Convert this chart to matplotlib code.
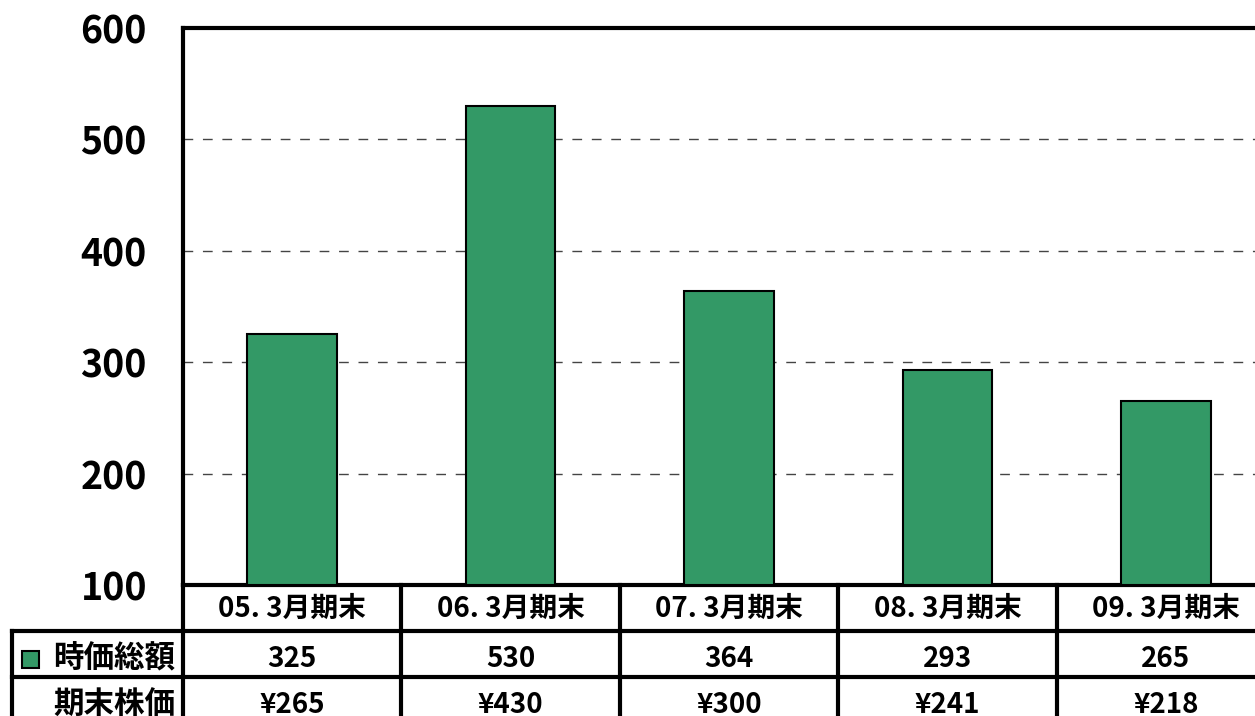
import matplotlib
matplotlib.use("Agg")
import matplotlib.pyplot as plt
from matplotlib.patches import Rectangle

plt.rcParams['font.family'] = ['Noto Sans CJK JP', 'DejaVu Sans']

#----------- データ -----------#
periods = ["05. 3月期末", "06. 3月期末", "07. 3月期末", "08. 3月期末", "09. 3月期末"]
market_cap = [325, 530, 364, 293, 265]          # 時価総額
share_price = ["¥265", "¥430", "¥300", "¥241", "¥218"]  # 期末株価
row_labels = ["時価総額", "期末株価"]

BAR_COLOR = "#339966"
W, H = 1255, 716

#----------- 図 -----------#
fig = plt.figure(figsize=(W / 100, H / 100), dpi=100)

# main plot area (right edge runs off the picture like the original)
col_w = 218.4
ax_l, ax_top, ax_bot = 183, 28, 585
ax = fig.add_axes([ax_l / W, (H - ax_bot) / H, 5 * col_w / W, (ax_bot - ax_top) / H])
x = list(range(len(periods)))
ax.bar(x, [v - 100 for v in market_cap], bottom=100, width=0.41,
       color=BAR_COLOR, edgecolor="black", linewidth=1.5, zorder=3)
ax.set_xlim(-0.5, len(periods) - 0.5)
ax.set_ylim(100, 600)
ax.set_yticks([100, 200, 300, 400, 500, 600])
ax.set_xticks([])
ax.tick_params(axis="y", length=0, pad=26, labelsize=27)
for lab in ax.get_yticklabels():
    lab.set_fontweight("bold")
for y in [200, 300, 400, 500]:
    ax.axhline(y, color="#444444", linewidth=1, dashes=(7, 7), zorder=1)
for s in ["left", "top", "bottom"]:
    ax.spines[s].set_linewidth(3)
ax.spines["right"].set_visible(False)

#----------- 表 -----------#
row_h = 46
tax = fig.add_axes([ax_l / W, (H - ax_bot - 3 * row_h) / H, 5 * col_w / W, 3 * row_h / H])
tax.set_xlim(-0.5, len(periods) - 0.5)
tax.set_ylim(3 * row_h, 0)
tax.axis("off")
left_x = -0.5 - (ax_l - 12) / col_w   # left border of row-label column

lw = 3
# horizontal lines
tax.plot([left_x, len(periods) - 0.5], [row_h, row_h], color="black", lw=lw, clip_on=False)
tax.plot([left_x, len(periods) - 0.5], [2 * row_h, 2 * row_h], color="black", lw=lw, clip_on=False)
# vertical lines
for i in range(len(periods) + 1):
    tax.plot([i - 0.5, i - 0.5], [0, 3 * row_h], color="black", lw=lw, clip_on=False)
tax.plot([left_x, left_x], [row_h, 3 * row_h], color="black", lw=lw, clip_on=False)

fs = 20
for i, p in enumerate(periods):
    tax.text(i, row_h * 0.52, p, ha="center", va="center", fontsize=fs, fontweight="bold")
    tax.text(i, row_h * 1.6, str(market_cap[i]), ha="center", va="center", fontsize=fs, fontweight="bold")
    tax.text(i, row_h * 2.6, share_price[i], ha="center", va="center", fontsize=fs, fontweight="bold")

lab_x = -0.5 - 8 / col_w
tax.text(lab_x, row_h * 1.6, row_labels[0], ha="right", va="center", fontsize=22, fontweight="bold", clip_on=False)
tax.text(lab_x, row_h * 2.6, row_labels[1], ha="right", va="center", fontsize=22, fontweight="bold", clip_on=False)
sq_x = -0.5 - (ax_l - 22) / col_w
tax.add_patch(Rectangle((sq_x, row_h + 20), 17 / col_w, 17, facecolor=BAR_COLOR,
                        edgecolor="black", linewidth=1.5, clip_on=False))

fig.savefig("out.png", dpi=100)
